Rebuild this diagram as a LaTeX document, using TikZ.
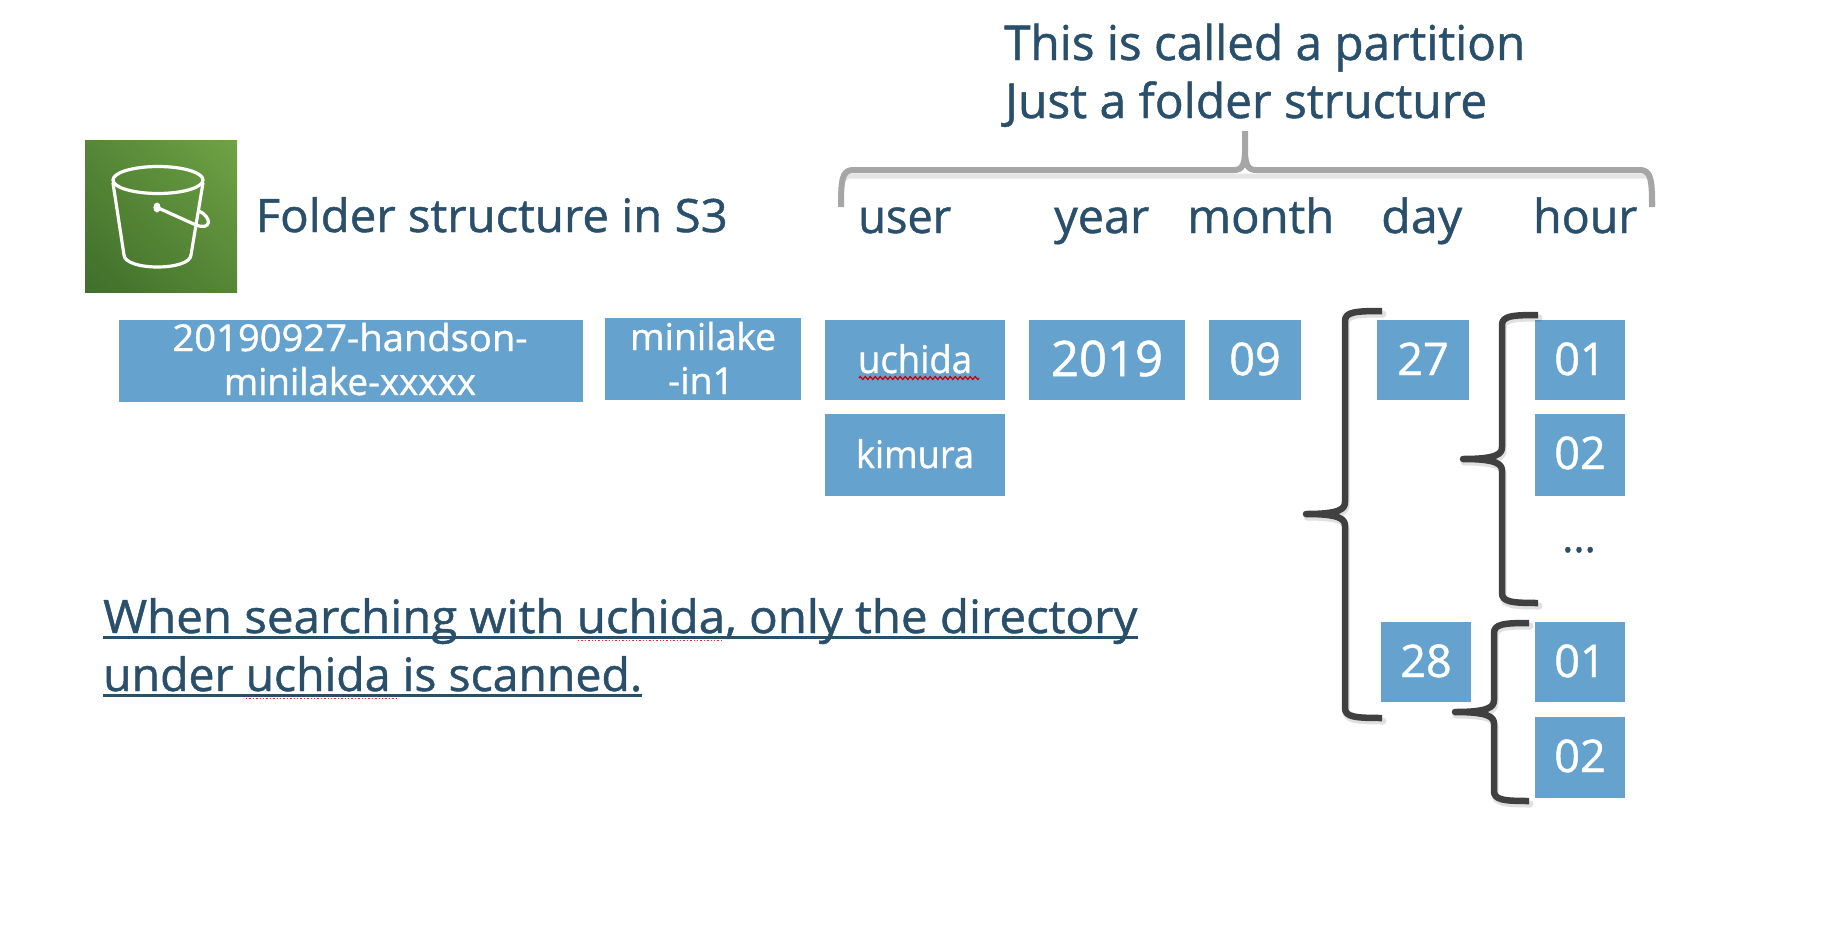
\documentclass[tikz,border=0pt]{standalone}
\usepackage{fontspec}
\usepackage{graphicx}
\setmainfont[FakeBold=1.0]{Open Sans}
\usetikzlibrary{decorations.pathmorphing,shadings}
\definecolor{boxblue}{HTML}{65A3CE}
\definecolor{inkblue}{HTML}{2A4F6B}
\definecolor{bracedark}{HTML}{404040}
\definecolor{bracegrey}{HTML}{A6A6A6}
\definecolor{iconlo}{HTML}{3F6F2A}
\definecolor{iconhi}{HTML}{70A346}
\colorlet{iconmid}{iconlo!55!iconhi}
\newcommand{\fw}[2]{\resizebox{#1pt}{\height}{#2}}
\newcommand{\bigbr}[6]{%
  % end x, spine x, tip x, top y, mid y, bottom y
  (#1,#4) .. controls ({#2+10},#4) and (#2,{#4+1}) .. (#2,{#4+10})
  -- (#2,{#5-12}) .. controls (#2,{#5-5}) and ({#2-5},#5) .. (#3,#5)
  (#3,#5) .. controls ({#2-5},#5) and (#2,{#5+5}) .. (#2,{#5+12})
  -- (#2,{#6-10}) .. controls (#2,{#6-1}) and ({#2+10},#6) .. (#1,#6)}
\tikzset{
  x=1pt,y=-1pt,
  bluebox/.style={fill=boxblue,draw=none,inner sep=0pt,text=white,anchor=center,
    font=\fontsize{45}{45}\selectfont,text depth=0pt},
  boxtxt/.style={text=white,inner sep=0pt,anchor=base,font=\fontsize{37}{37}\selectfont},
  inktxt/.style={text=inkblue,inner sep=0pt,anchor=base west,font=\fontsize{46}{46}\selectfont},
  labeltxt/.style={inktxt,font=\fontsize{47}{47}\selectfont},
  darkbrace/.style={draw=bracedark,line width=6.5pt,line cap=round,line join=round},
  shadowbrace/.style={draw=black,opacity=0.12,line width=7pt,line cap=round},
  greybrace/.style={draw=bracegrey,line width=6pt,line join=round},
  bucketline/.style={draw=white,line width=3.2pt,line join=round,line cap=round},
  underl/.style={draw=inkblue,line width=3pt},
  spell/.style={draw=red!85!white,line width=1.4pt,dotted},
  squig/.style={draw=red!80!black,line width=1.2pt,decorate,decoration={zigzag,segment length=5pt,amplitude=1.5pt}},
}
\begin{document}
\begin{tikzpicture}
\useasboundingbox (0,0) rectangle (1824,948);

% S3 icon
\shade[lower left=iconlo,lower right=iconmid,upper left=iconmid,upper right=iconhi]
  (85,140) rectangle (237,292);
\draw[bucketline] (158,180) ellipse [x radius=45,y radius=13.5];
\draw[bucketline] (113,183) -- (124,255) .. controls (125,271) and (190,271) .. (191,255) -- (203,183);
\draw[bucketline] (156,207) -- (196,225) .. controls (212,231) and (212,217) .. (199,211);
\fill[white] (157,207.5) ellipse [x radius=3.6,y radius=5];

% Title texts
\node[inktxt] (folder) at (255.5,232) {\fw{472}{Folder structure in S3}};
\node[inktxt,font=\fontsize{48}{48}\selectfont] (part1) at (1004,60) {\fw{521}{This is called a partition}};
\node[inktxt,font=\fontsize{48}{48}\selectfont] (part2) at (1005,118) {\fw{482}{Just a folder structure}};
\node[labeltxt] (luser) at (858,233) {\fw{93}{user}};
\node[labeltxt] (lyear) at (1054,233) {\fw{95}{year}};
\node[labeltxt] (lmonth) at (1187,233) {\fw{147}{month}};
\node[labeltxt] (lday) at (1381,233) {\fw{81}{day}};
\node[labeltxt] (lhour) at (1533,233) {\fw{104}{hour}};

% Grey brace
\draw[black,opacity=0.10,line width=5pt] (841,205) .. controls (841,182) and (842,176) .. (852,176) -- (1644,176) .. controls (1652,176) and (1653,182) .. (1653,205);
\draw[greybrace] (841,207) .. controls (841,180) and (842,171) .. (852,170)
  -- (1234,170) .. controls (1242,170) and (1245,165) .. (1245,150) -- (1245,131);
\draw[greybrace] (1652,207) .. controls (1652,180) and (1651,171) .. (1641,170)
  -- (1256,170) .. controls (1248,170) and (1245,165) .. (1245,150);

% Blue boxes
\node[bluebox,minimum width=464pt,minimum height=82pt] (bucket) at (351,361) {};
\node[boxtxt] (b1a) at (350,351) {\fw{355}{20190927-handson-}};
\node[boxtxt] (b1b) at (350,395) {\fw{252}{minilake-xxxxx}};
\node[bluebox,minimum width=196pt,minimum height=82pt] (prefix) at (703,359) {};
\node[boxtxt] (b2a) at (703,350) {\fw{146}{minilake}};
\node[boxtxt] (b2b) at (701,394) {\fw{66}{-in1}};

\node[bluebox,minimum width=180pt,minimum height=80pt,text height=26pt,font=\fontsize{38}{38}\selectfont] (uchida) at (915,360) {\fw{114}{uchida}};
\node[bluebox,minimum width=180pt,minimum height=82pt,text height=26pt,font=\fontsize{38}{38}\selectfont] (kimura) at (915,455) {\fw{118}{kimura}};
\node[bluebox,minimum width=156pt,minimum height=80pt,text height=32pt,font=\fontsize{49}{49}\selectfont] (y2019) at (1107,360) {2019};
\node[bluebox,minimum width=92pt,minimum height=80pt,text height=30pt] (m09) at (1255,360) {09};
\node[bluebox,minimum width=92pt,minimum height=80pt,text height=30pt] (d27) at (1423,360) {27};
\node[bluebox,minimum width=90pt,minimum height=80pt,text height=30pt] (h01a) at (1580,360) {01};
\node[bluebox,minimum width=90pt,minimum height=82pt,text height=28pt] (h02a) at (1580,455) {02};
\node[inktxt,anchor=base,font=\fontsize{42}{42}\selectfont] (dots) at (1579,552) {...};
\node[bluebox,minimum width=90pt,minimum height=80pt,text height=30pt] (d28) at (1426,662) {28};
\node[bluebox,minimum width=90pt,minimum height=80pt,text height=30pt] (h01b) at (1580,662) {01};
\node[bluebox,minimum width=90pt,minimum height=81pt,text height=29pt] (h02b) at (1580,757.5) {02};

% Red squiggle under uchida
\draw[squig] (859,378) -- (979,378);

% Dark braces (shadow, then stroke)
\draw[shadowbrace,xshift=1pt,yshift=-3pt] \bigbr{1382}{1345}{1306}{311}{514}{718};
\draw[shadowbrace,xshift=1pt,yshift=-3pt] \bigbr{1538}{1502}{1463}{315}{459}{603};
\draw[shadowbrace,xshift=1pt,yshift=-3pt] \bigbr{1529}{1494}{1455}{623}{712}{801};
\draw[darkbrace,line cap=butt] \bigbr{1382}{1345}{1306}{311}{514}{718};
\draw[darkbrace,line cap=butt] \bigbr{1538}{1502}{1463}{315}{459}{603};
\draw[darkbrace,line cap=butt] \bigbr{1529}{1494}{1455}{623}{712}{801};
\fill[bracedark] (1306,514) circle (3.25) (1463,459) circle (3.25) (1455,712) circle (3.25);

% Bottom sentence
\node[inktxt] (sent1) at (103,633) {\fw{1034}{When searching with uchida, only the directory}};
\node[inktxt] (sent2) at (103,691) {\fw{539}{under uchida is scanned.}};
\draw[underl] ([yshift=-4.5pt]sent1.base west) -- ([yshift=-4.5pt]sent1.base east);
\draw[underl] ([yshift=-4.5pt]sent2.base west) -- ([yshift=-4.5pt]sent2.base east);
\draw[spell] (578,640.5) -- (722,640.5);
\draw[spell] (246,698.5) -- (396,698.5);
\end{tikzpicture}
\end{document}
